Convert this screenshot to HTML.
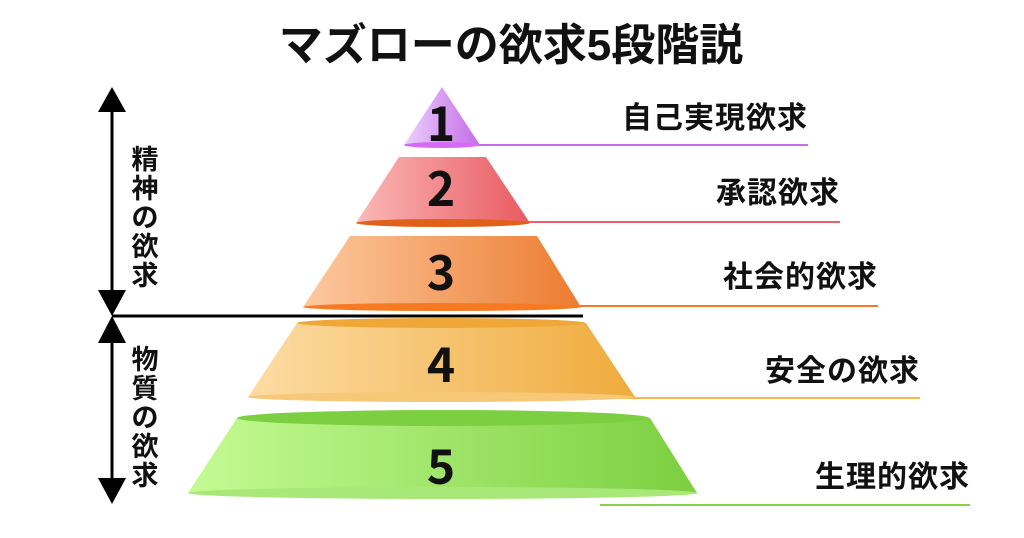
<!DOCTYPE html>
<html><head><meta charset="utf-8"><style>
html,body{margin:0;padding:0;background:#fff;width:1024px;height:538px;overflow:hidden}
svg text{font-family:"Liberation Sans","Noto Sans CJK JP",sans-serif}
svg text.n{font-family:"Noto Sans CJK JP",sans-serif}
</style></head><body>
<svg width="1024" height="538" viewBox="0 0 1024 538" xmlns="http://www.w3.org/2000/svg">
<defs>
<linearGradient id="g1" x1="0" x2="1"><stop offset="0" stop-color="#ecd0fb"/><stop offset="1" stop-color="#c56ce8"/></linearGradient>
<linearGradient id="g2" x1="0" x2="1"><stop offset="0" stop-color="#fbb8b8"/><stop offset="1" stop-color="#e85a60"/></linearGradient>
<linearGradient id="g3" x1="0" x2="1"><stop offset="0" stop-color="#fdc9a0"/><stop offset="1" stop-color="#ec7c30"/></linearGradient>
<linearGradient id="g4" x1="0" x2="1"><stop offset="0" stop-color="#fddca4"/><stop offset="1" stop-color="#efab3c"/></linearGradient>
<linearGradient id="g5" x1="0" x2="1"><stop offset="0" stop-color="#c4fb94"/><stop offset="1" stop-color="#7ccf40"/></linearGradient>
</defs>
<text x="511" y="60" text-anchor="middle" font-size="44" font-weight="bold" fill="#111">マズローの欲求5段階説</text>

<line x1="470" y1="145" x2="808" y2="145" stroke="#c86ce8" stroke-width="2"/>
<line x1="500" y1="222" x2="840" y2="222" stroke="#f0606a" stroke-width="2"/>
<line x1="560" y1="306" x2="878" y2="306" stroke="#f57a22" stroke-width="2"/>
<line x1="555" y1="398" x2="920" y2="398" stroke="#f6b84a" stroke-width="2"/>
<line x1="600" y1="505" x2="970" y2="505" stroke="#86d24c" stroke-width="2"/>

<polygon points="442,87 404,145 480,145" fill="url(#g1)"/>
<ellipse cx="442" cy="145" rx="38" ry="3" fill="#d66af5"/>
<polygon points="399,157 486,157 530,223 356,223" fill="url(#g2)"/>
<ellipse cx="443" cy="223" rx="87" ry="4" fill="#e0601a"/>
<polygon points="350,236 537,236 581,307 303,307" fill="url(#g3)"/>
<ellipse cx="442" cy="307" rx="139" ry="4" fill="#f57a22"/>
<line x1="112" y1="316" x2="583" y2="316" stroke="#000" stroke-width="3"/>
<polygon points="297,323 586,323 635,397 248,397" fill="url(#g4)"/>
<ellipse cx="441" cy="323" rx="144" ry="5" fill="#efa838"/>
<ellipse cx="441" cy="397" rx="193" ry="5" fill="#f6c878"/>
<polygon points="237,418 650,418 697,493 188,493" fill="url(#g5)"/>
<ellipse cx="443" cy="418" rx="206" ry="8" fill="#7ccf40"/>
<ellipse cx="443" cy="493" rx="255" ry="6" fill="#a8e878"/>

<g font-size="48" font-weight="bold" fill="#111" text-anchor="middle">
<text class="n" x="441" y="141">1</text>
<text class="n" x="441" y="206">2</text>
<text class="n" x="441" y="290">3</text>
<text class="n" x="441" y="382">4</text>
<text class="n" x="441" y="484">5</text>
</g>
<g font-size="30" font-weight="bold" fill="#111" text-anchor="end" letter-spacing="1">
<text x="808" y="128">自己実現欲求</text>
<text x="840" y="203">承認欲求</text>
<text x="878" y="287">社会的欲求</text>
<text x="920" y="381">安全の欲求</text>
<text x="970" y="487">生理的欲求</text>
</g>

<line x1="112" y1="100" x2="112" y2="300" stroke="#000" stroke-width="3"/>
<line x1="112" y1="330" x2="112" y2="490" stroke="#000" stroke-width="3"/>
<polygon points="112,87 98,112 126,112" fill="#000"/>
<polygon points="112,316 98,290 126,290" fill="#000"/>
<polygon points="112,316 98,343 126,343" fill="#000"/>
<polygon points="112,504 98,478 126,478" fill="#000"/>
<g font-size="27" font-weight="bold" fill="#111" text-anchor="middle">
<text x="145" y="169">精</text><text x="145" y="198">神</text><text x="145" y="227">の</text><text x="145" y="256">欲</text><text x="145" y="285">求</text>
<text x="145" y="369">物</text><text x="145" y="398">質</text><text x="145" y="427">の</text><text x="145" y="456">欲</text><text x="145" y="485">求</text>
</g>
</svg>
</body></html>
